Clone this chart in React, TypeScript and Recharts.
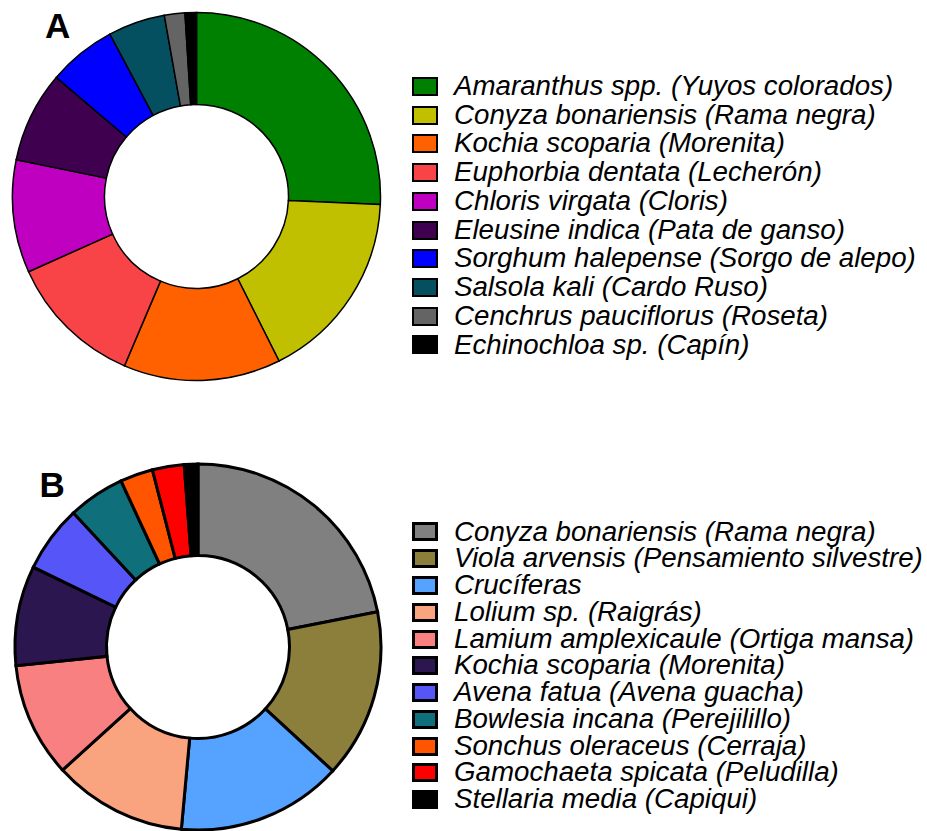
import { PieChart, Pie, Legend } from "recharts";

const namesA = [
  "Amaranthus spp. (Yuyos colorados)",
  "Conyza bonariensis (Rama negra)",
  "Kochia scoparia (Morenita)",
  "Euphorbia dentata (Lecherón)",
  "Chloris virgata (Cloris)",
  "Eleusine indica (Pata de ganso)",
  "Sorghum halepense (Sorgo de alepo)",
  "Salsola kali (Cardo Ruso)",
  "Cenchrus pauciflorus (Roseta)",
  "Echinochloa sp. (Capín)",
];
const valuesA = [25.7, 16.9, 13.8, 11.9, 9.9, 8.0, 6.0, 5.0, 1.8, 1.0];
const colorsA = [
  "#008000",
  "#c0c000",
  "#ff6000",
  "#f84446",
  "#c000c0",
  "#3f0050",
  "#0000ff",
  "#055060",
  "#646464",
  "#000000",
];

const namesB = [
  "Conyza bonariensis (Rama negra)",
  "Viola arvensis (Pensamiento silvestre)",
  "Crucíferas",
  "Lolium sp. (Raigrás)",
  "Lamium amplexicaule (Ortiga mansa)",
  "Kochia scoparia (Morenita)",
  "Avena fatua (Avena guacha)",
  "Bowlesia incana (Perejilillo)",
  "Sonchus oleraceus (Cerraja)",
  "Gamochaeta spicata (Peludilla)",
  "Stellaria media (Capiqui)",
];
const valuesB = [21.9, 14.9, 14.6, 11.8, 10.1, 8.8, 5.9, 5.0, 2.9, 2.8, 1.2];
const colorsB = [
  "#808080",
  "#8c7e3b",
  "#55a3ff",
  "#f9a47f",
  "#f98080",
  "#2c1650",
  "#5656f8",
  "#0f6f7a",
  "#ff5500",
  "#ff0000",
  "#000000",
];

const FONT = '"Liberation Sans", Arial, sans-serif';

function buildData(names: string[], values: number[], colors: string[]) {
  return names.map((name, i) => ({ name, value: values[i], fill: colors[i] }));
}

function LegendList({
  names,
  colors,
  rowHeight,
  border,
}: {
  names: string[];
  colors: string[];
  rowHeight: number;
  border: number;
}) {
  return (
    <div style={{ fontFamily: FONT, fontStyle: "italic", fontSize: 27.7, color: "#000" }}>
      {names.map((n, i) => (
        <div key={n} style={{ display: "flex", alignItems: "center", height: rowHeight }}>
          <span
            style={{
              display: "inline-block",
              boxSizing: "border-box",
              width: 26,
              height: 19,
              background: colors[i],
              border: `${border}px solid #000`,
              flex: "none",
            }}
          />
          <span style={{ marginLeft: 16, whiteSpace: "nowrap", lineHeight: `${rowHeight}px` }}>{n}</span>
        </div>
      ))}
    </div>
  );
}

function Donut({
  names,
  values,
  colors,
  height,
  cx,
  cy,
  inner,
  outer,
  strokeWidth,
  legendTop,
  rowHeight,
  border,
}: {
  names: string[];
  values: number[];
  colors: string[];
  height: number;
  cx: number;
  cy: number;
  inner: number;
  outer: number;
  strokeWidth: number;
  legendTop: number;
  rowHeight: number;
  border: number;
}) {
  return (
    <PieChart width={927} height={height} margin={{ top: 0, right: 0, bottom: 0, left: 0 }}>
      <Pie
        data={buildData(names, values, colors)}
        dataKey="value"
        nameKey="name"
        cx={cx}
        cy={cy}
        innerRadius={inner}
        outerRadius={outer}
        startAngle={90}
        endAngle={-270}
        stroke="#000"
        strokeWidth={strokeWidth}
        isAnimationActive={false}
      />
      <Legend
        layout="vertical"
        align="right"
        verticalAlign="middle"
        wrapperStyle={{ left: 412, top: legendTop, right: "auto", width: 515 }}
        content={() => <LegendList names={names} colors={colors} rowHeight={rowHeight} border={border} />}
      />
    </PieChart>
  );
}

export default function App() {
  return (
    <div style={{ position: "absolute", left: 0, top: 0, width: 927, height: 831, background: "#fff", overflow: "hidden" }}>
      <div style={{ position: "absolute", left: 0, top: 0 }}>
        <Donut
          names={namesA}
          values={valuesA}
          colors={colorsA}
          height={420}
          cx={196.5}
          cy={196.5}
          inner={92}
          outer={184}
          strokeWidth={1.5}
          legendTop={72}
          rowHeight={28.74}
          border={2}
        />
      </div>
      <div style={{ position: "absolute", left: 0, top: 420 }}>
        <Donut
          names={namesB}
          values={valuesB}
          colors={colorsB}
          height={411}
          cx={198}
          cy={227}
          inner={91.5}
          outer={183}
          strokeWidth={3}
          legendTop={98.6}
          rowHeight={26.77}
          border={3}
        />
      </div>
      <div style={{ position: "absolute", left: 45, top: 8.4, fontFamily: FONT, fontWeight: "bold", fontSize: 35, lineHeight: "35px" }}>
        A
      </div>
      <div style={{ position: "absolute", left: 39.5, top: 467.4, fontFamily: FONT, fontWeight: "bold", fontSize: 35, lineHeight: "35px" }}>
        B
      </div>
    </div>
  );
}
